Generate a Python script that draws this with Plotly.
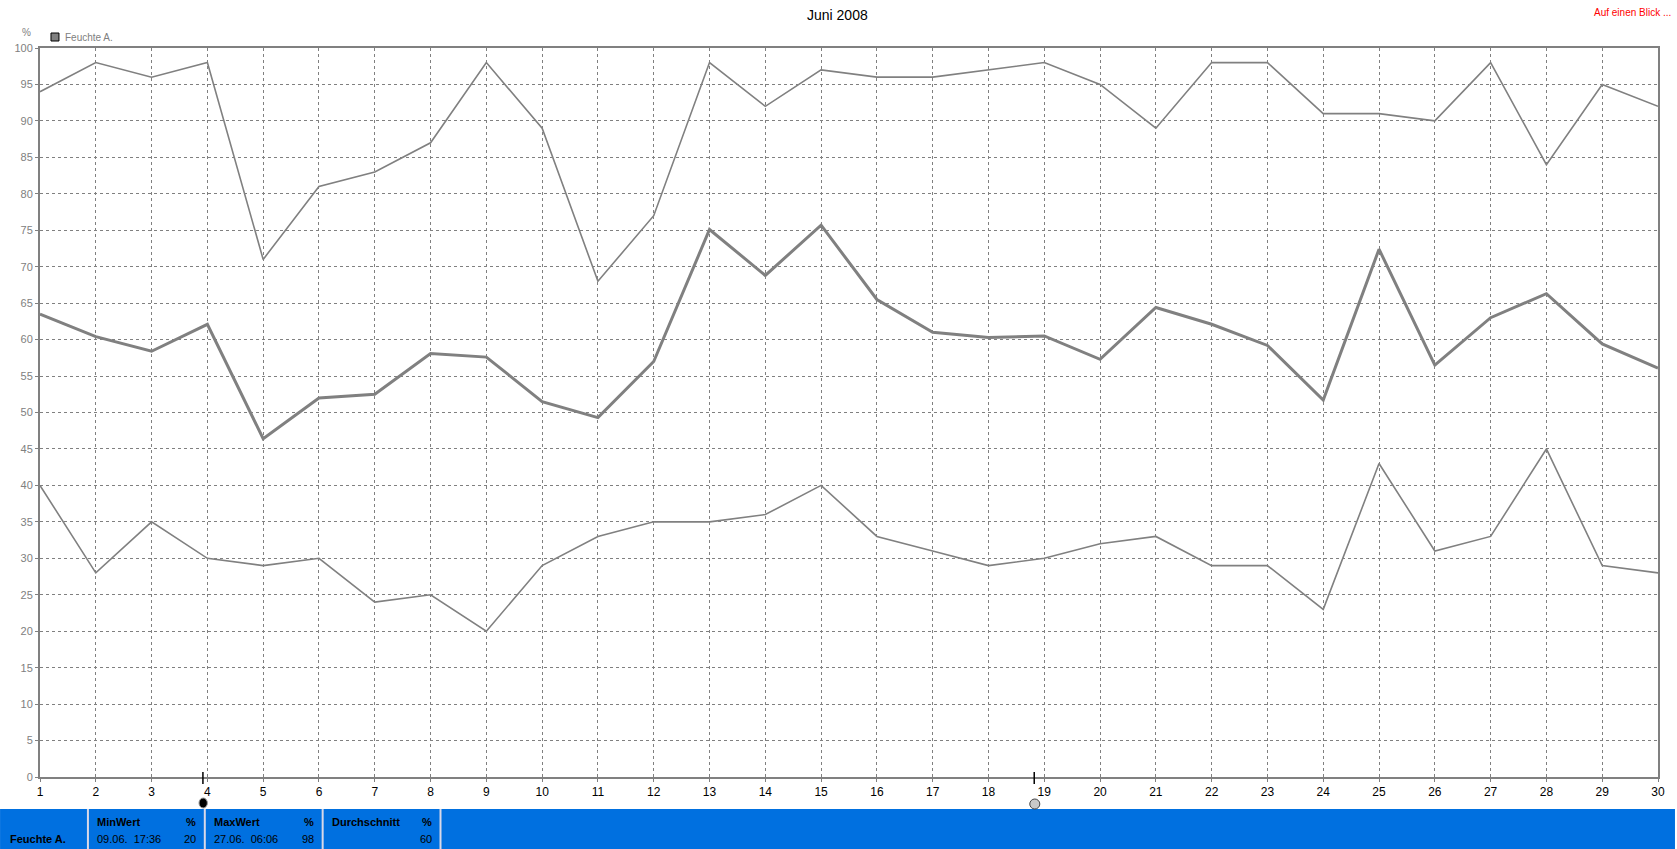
import plotly.graph_objects as go

days = list(range(1, 31))
max_vals = [94, 98, 96, 98, 71, 81, 83, 87, 98, 89, 68, 77, 98, 92, 97,
            96, 96, 97, 98, 95, 89, 98, 98, 91, 91, 90, 98, 84, 95, 92]
avg_vals = [63.5, 60.4, 58.4, 62.1, 46.4, 52.0, 52.5, 58.1, 57.6, 51.5,
            49.3, 57.0, 75.1, 68.8, 75.7, 65.5, 61.0, 60.3, 60.5, 57.3,
            64.4, 62.1, 59.2, 51.7, 72.4, 56.5, 63.0, 66.3, 59.4, 56.1]
min_vals = [40, 28, 35, 30, 29, 30, 24, 25, 20, 29, 33, 35, 35, 36, 40,
            33, 31, 29, 30, 32, 33, 29, 29, 23, 43, 31, 33, 45, 29, 28]
y_ticks = list(range(0, 101, 5))
title = "Juni 2008"
series_name = "Feuchte A."
stats_headers = ["MinWert", "MaxWert", "Durchschnitt"]
stats_dates = ["09.06.  17:36", "27.06.  06:06", ""]
stats_values = ["20", "98", "60"]

W, H = 1677, 849
L, R, T, B = 40, 1660, 48, 777
GRAY = "#808080"
FONT = "Liberation Sans"


def px(x):
    return (x - L) / (R - L)


def py(y):
    return (B - y) / (B - T)


fig = go.Figure()
line_style = dict(color=GRAY)
fig.add_trace(go.Scatter(x=days, y=max_vals, mode="lines",
                         line=dict(color=GRAY, width=1.6), showlegend=False, hoverinfo="skip"))
fig.add_trace(go.Scatter(x=days, y=min_vals, mode="lines",
                         line=dict(color=GRAY, width=1.6), showlegend=False, hoverinfo="skip"))
fig.add_trace(go.Scatter(x=days, y=avg_vals, mode="lines",
                         line=dict(color=GRAY, width=3), showlegend=False, hoverinfo="skip"))

shapes = []
annotations = []

# blue stats panel
shapes.append(dict(type="rect", xref="paper", yref="paper",
                   x0=px(0), x1=px(W), y0=py(849), y1=py(809),
                   fillcolor="#0070E0", line=dict(width=0), layer="above"))
for dx in [88, 205, 323, 441]:
    shapes.append(dict(type="line", xref="paper", yref="paper",
                       x0=px(dx), x1=px(dx), y0=py(849), y1=py(809),
                       line=dict(color="#D8D8E8", width=2), layer="above"))

def ann(text, x, y, xanchor="left", color="black", size=11, bold=False):
    annotations.append(dict(text=("<b>%s</b>" % text) if bold else text,
                            xref="paper", yref="paper", x=px(x), y=py(y),
                            xanchor=xanchor, yanchor="middle", showarrow=False,
                            font=dict(family=FONT, size=size, color=color)))

ann(series_name, 8, 839, bold=True)
cols = [(95, 198), (212, 316), (330, 434)]
for (xl, xr), h, d, v in zip(cols, stats_headers, stats_dates, stats_values):
    ann(h, xl, 822, bold=True)
    ann("%", xr, 822, xanchor="right", bold=True)
    if d:
        ann(d, xl, 839)
    ann(v, xr, 839, xanchor="right")

# title, unit, legend, link
ann(title, 838, 15, xanchor="center", size=14)
ann("%", 26, 32, xanchor="center", color=GRAY, size=10)
shapes.append(dict(type="rect", xref="paper", yref="paper",
                   x0=px(51), x1=px(59), y0=py(41), y1=py(33),
                   fillcolor=GRAY, line=dict(color="black", width=1)))
ann(series_name, 63, 37, color=GRAY, size=10)
ann("Auf einen Blick ...", 1675, 12, xanchor="right", color="red", size=10)

# markers under the axis
shapes.append(dict(type="line", xref="x", yref="paper", x0=3.92, x1=3.92,
                   y0=py(772), y1=py(784), line=dict(color="black", width=1.5)))
shapes.append(dict(type="circle", xref="x", yref="paper", x0=3.85, x1=4.0,
                   y0=py(808), y1=py(798), fillcolor="black", line=dict(color="#999", width=1)))
shapes.append(dict(type="line", xref="x", yref="paper", x0=18.82, x1=18.82,
                   y0=py(772), y1=py(784), line=dict(color="black", width=1.5)))
shapes.append(dict(type="circle", xref="x", yref="paper", x0=18.74, x1=18.92,
                   y0=py(809), y1=py(799), fillcolor="#C8C8C8", line=dict(color="#444", width=1)))

fig.update_layout(
    width=W, height=H, autosize=False,
    margin=dict(l=L, r=W - R, t=T, b=H - B, pad=0),
    paper_bgcolor="white", plot_bgcolor="white",
    showlegend=False,
    shapes=shapes, annotations=annotations,
    xaxis=dict(range=[1, 30], tickmode="array", tickvals=days,
               ticktext=[str(d) for d in days],
               showgrid=True, gridcolor=GRAY, griddash="3px,3px", gridwidth=1,
               showline=True, linecolor=GRAY, linewidth=2, mirror=True,
               ticks="outside", ticklen=3, tickcolor=GRAY,
               tickfont=dict(family=FONT, size=12, color="black"),
               zeroline=False, fixedrange=True),
    yaxis=dict(range=[0, 100], tickmode="array", tickvals=y_ticks,
               ticktext=[str(v) for v in y_ticks],
               showgrid=True, gridcolor=GRAY, griddash="3px,3px", gridwidth=1,
               showline=True, linecolor=GRAY, linewidth=2, mirror=True,
               ticks="outside", ticklen=3, tickcolor=GRAY,
               tickfont=dict(family=FONT, size=11, color=GRAY),
               zeroline=False, fixedrange=True),
)

fig.write_html("out.html", config={"displayModeBar": False},
               post_script="document.body.style.margin='0';document.body.style.overflow='hidden';")
